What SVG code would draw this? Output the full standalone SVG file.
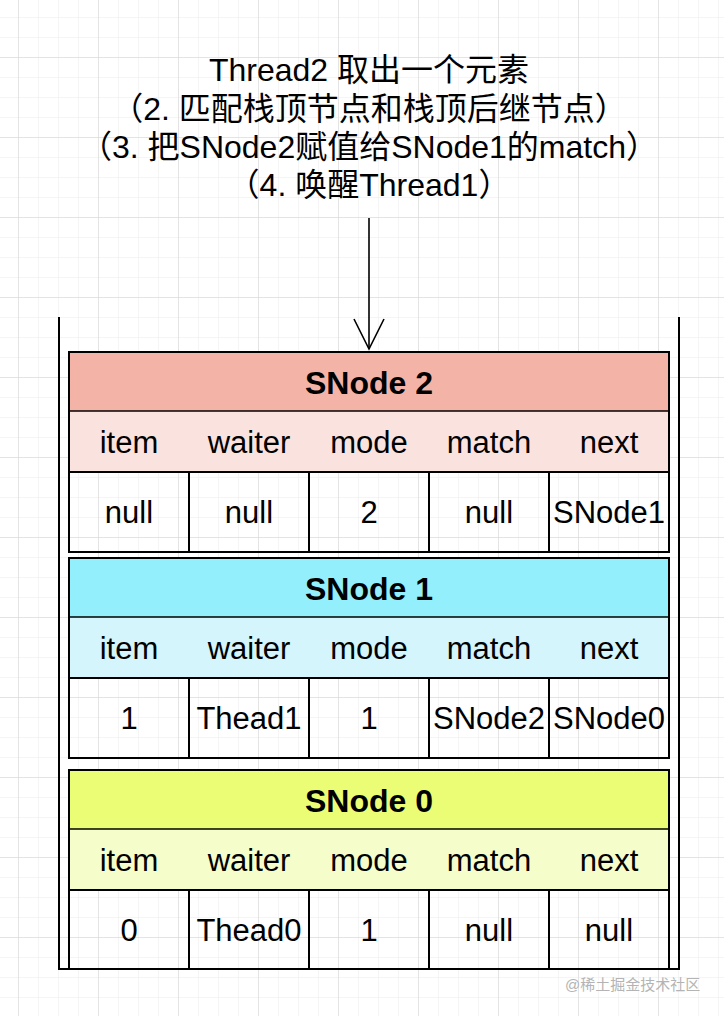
<svg xmlns="http://www.w3.org/2000/svg" width="724" height="1016" viewBox="0 0 724 1016">
<defs>
<pattern id="minor" width="20" height="20" patternUnits="userSpaceOnUse" x="18" y="17">
<path d="M0 0 H20 M0 0 V20" fill="none" stroke="#ececec" stroke-width="1"/>
</pattern>
<pattern id="major" width="80" height="80" patternUnits="userSpaceOnUse" x="18" y="57">
<path d="M0 0 H80 M0 0 V80" fill="none" stroke="#d3d3d3" stroke-width="1"/>
</pattern>
<marker id="open" markerUnits="userSpaceOnUse" viewBox="-32 -17 34 34" markerWidth="34" markerHeight="34" refX="0" refY="0" orient="auto">
<path d="M-30 -15 L0 0 L-30 15" fill="none" stroke="#000" stroke-width="1.6"/>
</marker>
</defs>
<style>
text{font-family:"Liberation Sans","Noto Sans CJK SC",Arial,sans-serif;font-size:31px;fill:#000;text-anchor:middle}
.ttl{font-size:32px}
.hd{font-weight:bold;font-size:32px}
.box{fill:none;stroke:#000;stroke-width:2}
.sep{stroke:#000;stroke-width:1.5}
.div{stroke:#000;stroke-width:2}
.wm{font-size:15px;fill:#b4b4b4;text-anchor:start}
</style>
<rect width="724" height="1016" fill="#fff"/>
<rect width="724" height="1016" fill="url(#minor)"/>
<rect width="724" height="1016" fill="url(#major)"/>

<g id="title" class="ttl">
<text class="ttl" x="369" y="81">Thread2 取出一个元素</text>
<text class="ttl" x="369" y="120">（2. 匹配栈顶节点和栈顶后继节点）</text>
<text class="ttl" x="369" y="158">（3. 把SNode2赋值给SNode1的match）</text>
<text class="ttl" x="369" y="196">（4. 唤醒Thread1）</text>
</g>

<g id="stack">
<path d="M59 317 V969 H679 V317" fill="none" stroke="#000" stroke-width="2"/>
</g>

<g id="snode2">
<rect x="69" y="352" width="600" height="59" fill="#f3b4a7"/>
<rect x="69" y="411" width="600" height="61" fill="#fae3df"/>
<line class="sep" x1="69" y1="411" x2="669" y2="411"/>
<line class="div" x1="69" y1="472" x2="669" y2="472"/>
<path class="div" d="M189 472 V552 M309 472 V552 M429 472 V552 M549 472 V552"/>
<rect class="box" x="69" y="352" width="600" height="200"/>
<text class="hd" x="369" y="394">SNode 2</text>
<text x="129" y="453">item</text><text x="249" y="453">waiter</text><text x="369" y="453">mode</text><text x="489" y="453">match</text><text x="609" y="453">next</text>
<text x="129" y="523">null</text><text x="249" y="523">null</text><text x="369" y="523">2</text><text x="489" y="523">null</text><text x="609" y="523">SNode1</text>
</g>

<g id="snode1">
<rect x="69" y="558" width="600" height="59" fill="#93effb"/>
<rect x="69" y="617" width="600" height="61" fill="#d3f5fb"/>
<line class="sep" x1="69" y1="617" x2="669" y2="617"/>
<line class="div" x1="69" y1="678" x2="669" y2="678"/>
<path class="div" d="M189 678 V758 M309 678 V758 M429 678 V758 M549 678 V758"/>
<rect class="box" x="69" y="558" width="600" height="200"/>
<text class="hd" x="369" y="600">SNode 1</text>
<text x="129" y="659">item</text><text x="249" y="659">waiter</text><text x="369" y="659">mode</text><text x="489" y="659">match</text><text x="609" y="659">next</text>
<text x="129" y="729">1</text><text x="249" y="729">Thead1</text><text x="369" y="729">1</text><text x="489" y="729">SNode2</text><text x="609" y="729">SNode0</text>
</g>

<g id="snode0">
<rect x="69" y="770" width="600" height="59" fill="#ebfd74"/>
<rect x="69" y="829" width="600" height="61" fill="#f5fdcb"/>
<line class="sep" x1="69" y1="829" x2="669" y2="829"/>
<line class="div" x1="69" y1="890" x2="669" y2="890"/>
<path class="div" d="M189 890 V969 M309 890 V969 M429 890 V969 M549 890 V969"/>
<rect class="box" x="69" y="770" width="600" height="199"/>
<text class="hd" x="369" y="812">SNode 0</text>
<text x="129" y="871">item</text><text x="249" y="871">waiter</text><text x="369" y="871">mode</text><text x="489" y="871">match</text><text x="609" y="871">next</text>
<text x="129" y="941">0</text><text x="249" y="941">Thead0</text><text x="369" y="941">1</text><text x="489" y="941">null</text><text x="609" y="941">null</text>
</g>

<g id="connectors">
<line x1="369" y1="218" x2="369" y2="349" stroke="#000" stroke-width="1.6" marker-end="url(#open)"/>
</g>

<text class="wm" x="565" y="990">@稀土掘金技术社区</text>
</svg>
